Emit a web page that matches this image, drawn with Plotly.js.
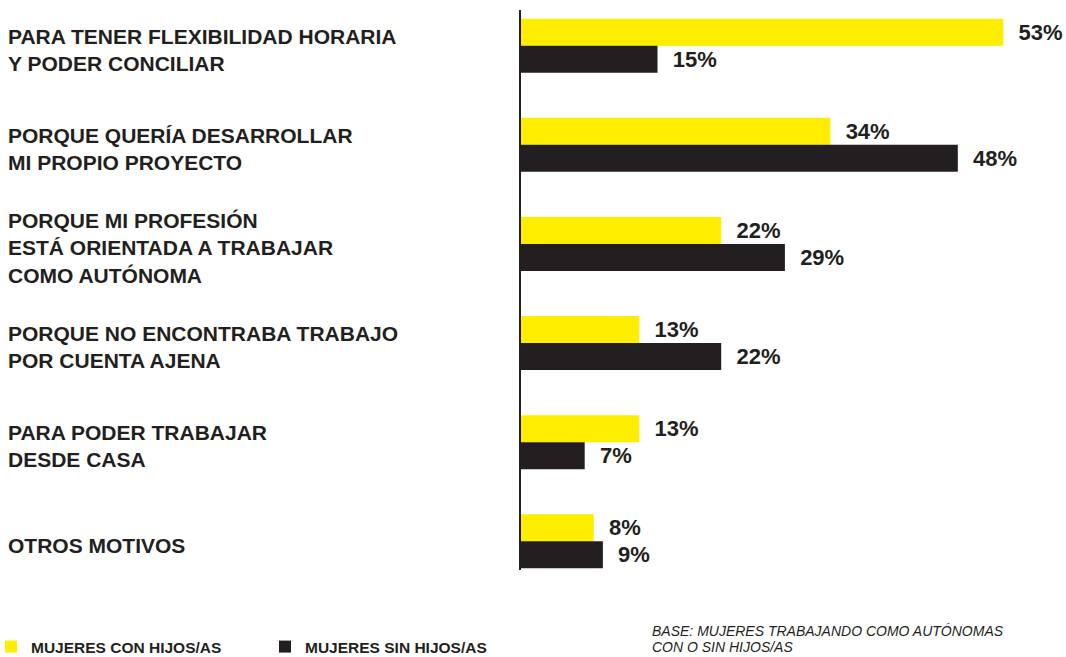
<!DOCTYPE html>
<html>
<head>
<meta charset="utf-8">
<script src="https://cdn.plot.ly/plotly-3.0.1.min.js"></script>
<style>
  html, body { margin: 0; padding: 0; background: #ffffff; }
  #chart { width: 1066px; height: 657px; }
</style>
</head>
<body>
<div id="chart"></div>
<script>
// ---- data ----
const categories = [
  'PARA TENER FLEXIBILIDAD HORARIA<br>Y PODER CONCILIAR',
  'PORQUE QUERÍA DESARROLLAR<br>MI PROPIO PROYECTO',
  'PORQUE MI PROFESIÓN<br>ESTÁ ORIENTADA A TRABAJAR<br>COMO AUTÓNOMA',
  'PORQUE NO ENCONTRABA TRABAJO<br>POR CUENTA AJENA',
  'PARA PODER TRABAJAR<br>DESDE CASA',
  'OTROS MOTIVOS'
];
const conHijos = [53, 34, 22, 13, 13, 8];
const sinHijos = [15, 48, 29, 22, 7, 9];
const seriesNames = ['MUJERES CON HIJOS/AS', 'MUJERES SIN HIJOS/AS'];
const baseNoteLines = ['BASE: MUJERES TRABAJANDO COMO AUTÓNOMAS', 'CON O SIN HIJOS/AS'];

// ---- styling ----
const YELLOW = '#FFED00';
const DARK = '#231F20';
const FONT = '"Liberation Sans", Arial, Helvetica, sans-serif';

const W = 1066, H = 657;
const marginL = 521, marginR = 0, marginT = 10, marginB = 87;
const plotW = W - marginL - marginR;
const plotH = H - marginT - marginB;
const pxPerUnit = 9.1;

function px2paperX(px) { return (px - marginL) / plotW; }
function px2paperY(py) { return (H - marginB - py) / plotH; }

const idx = categories.map((_, i) => i);

function barTrace(vals, name, color) {
  return {
    type: 'bar',
    orientation: 'h',
    x: vals,
    y: idx,
    name: name,
    marker: { color: color, line: { width: 0 } },
    texttemplate: '\u00a0\u00a0%{x}%',
    textposition: 'outside',
    constraintext: 'none',
    cliponaxis: false,
    textfont: { family: FONT, size: 22, weight: 700, color: DARK },
    hoverinfo: 'skip'
  };
}

const data = [
  barTrace(conHijos, seriesNames[0], YELLOW),
  barTrace(sinHijos, seriesNames[1], DARK)
];

const annotations = categories.map((c, i) => ({
  text: c,
  xref: 'paper', yref: 'y',
  x: px2paperX(6), y: i,
  yshift: -4,
  xanchor: 'left', yanchor: 'middle',
  align: 'left',
  showarrow: false,
  font: { family: FONT, size: 21, weight: 700, color: DARK }
}));

const noteFont = { family: FONT, size: 14, style: 'italic', weight: 400, color: DARK };
annotations.push({
  text: baseNoteLines[0],
  xref: 'paper', yref: 'paper',
  x: px2paperX(650), y: px2paperY(631),
  xanchor: 'left', yanchor: 'middle',
  align: 'left', showarrow: false, font: noteFont
});
annotations.push({
  text: baseNoteLines[1],
  xref: 'paper', yref: 'paper',
  x: px2paperX(650), y: px2paperY(647),
  xanchor: 'left', yanchor: 'middle',
  align: 'left', showarrow: false, font: noteFont
});

const layout = {
  width: W, height: H,
  margin: { l: marginL, r: marginR, t: marginT, b: marginB, pad: 0, autoexpand: false },
  paper_bgcolor: '#ffffff',
  plot_bgcolor: '#ffffff',
  font: { family: FONT, color: DARK },
  barmode: 'group',
  bargap: 0.455,
  bargroupgap: 0,
  showlegend: true,
  legend: {
    orientation: 'h',
    x: px2paperX(-9), xanchor: 'left',
    y: px2paperY(647), yanchor: 'middle',
    entrywidth: 229, entrywidthmode: 'pixels',
    font: { family: FONT, size: 15.5, weight: 700, color: DARK },
    traceorder: 'normal',
    bgcolor: 'rgba(0,0,0,0)'
  },
  xaxis: {
    range: [0, plotW / pxPerUnit],
    showgrid: false, zeroline: false, showline: false,
    showticklabels: false, ticks: ''
  },
  yaxis: {
    type: 'linear',
    range: [5.29, -0.36],
    showgrid: false, zeroline: false,
    showline: true, linecolor: DARK, linewidth: 2,
    showticklabels: false, ticks: ''
  },
  annotations: annotations
};

Plotly.newPlot('chart', data, layout, { staticPlot: true, displayModeBar: false });
</script>
</body>
</html>
